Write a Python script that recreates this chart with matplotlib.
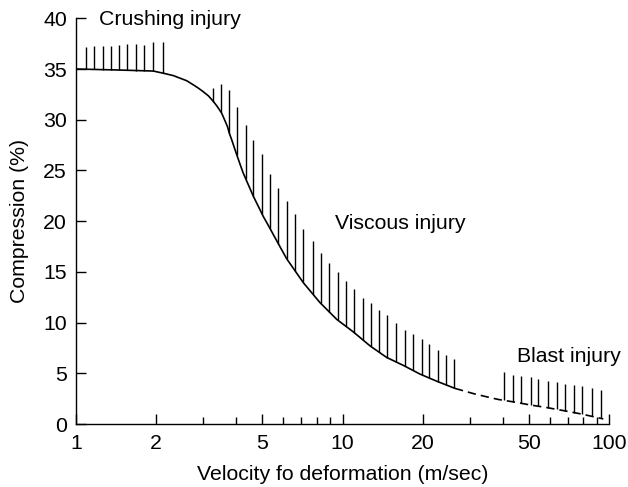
import numpy as np
import matplotlib
matplotlib.use("Agg")
import matplotlib.pyplot as plt
from matplotlib.ticker import LogLocator, FixedLocator, NullFormatter, FixedFormatter

plt.rcParams["font.family"] = ["Liberation Sans", "DejaVu Sans"]

# Tolerance boundary (solid part), velocity in m/s vs compression in %
curve_velocity = [1.0, 1.45, 1.95, 2.13, 2.32, 2.46, 2.60, 2.76, 2.88, 3.00, 3.14,
                  3.28, 3.39, 3.52, 3.61, 3.70, 3.76, 3.84, 3.92, 4.01, 4.12, 4.24,
                  4.43, 4.63, 4.83, 5.04, 5.27, 5.50, 5.83, 6.17, 7.13, 8.23, 9.51,
                  10.98, 12.69, 14.65, 16.91, 19.54, 22.57, 26.43]
curve_compression = [35.0, 34.9, 34.8, 34.58, 34.35, 34.09, 33.85, 33.43, 33.11,
                     32.77, 32.35, 31.79, 31.30, 30.65, 29.99, 29.33, 28.68, 28.02,
                     27.31, 26.55, 25.66, 24.75, 23.60, 22.45, 21.47, 20.48, 19.57,
                     18.68, 17.47, 16.30, 13.93, 11.97, 10.32, 9.08, 7.70, 6.56,
                     5.78, 4.92, 4.22, 3.51]

# Extrapolated part of the boundary (dashed)
dashed_velocity = [26.43, 30.96, 34.76, 38.43, 44.0, 50.8, 58.4, 67.8, 79.0, 95.2]
dashed_compression = [3.51, 3.0, 2.68, 2.42, 2.17, 1.87, 1.62, 1.31, 0.98, 0.50]

# Hatch strokes above the boundary: velocity and top of each stroke
crushing_velocity = [1.09, 1.17, 1.26, 1.35, 1.45, 1.56, 1.68, 1.80, 1.95, 2.12]
crushing_top = [37.2, 37.3, 37.3, 37.3, 37.4, 37.5, 37.5, 37.4, 37.7, 37.7]

viscous_velocity = [3.28, 3.50, 3.76, 4.01, 4.33, 4.63, 4.99, 5.35, 5.74, 6.19,
                    6.63, 7.11, 7.72, 8.29, 8.90, 9.59, 10.31, 11.07, 11.91, 12.76,
                    13.73, 14.75, 15.88, 17.12, 18.34, 19.88, 21.18, 22.76, 24.45,
                    26.27]
viscous_top = [33.1, 33.5, 32.9, 31.3, 29.5, 28.0, 26.6, 24.6, 23.3, 22.0, 20.7,
               19.2, 18.0, 16.9, 15.9, 15.0, 14.1, 13.3, 12.4, 11.9, 11.2, 10.7,
               10.0, 9.3, 8.9, 8.4, 7.9, 7.3, 6.8, 6.4]

blast_velocity = [40.2, 43.8, 46.8, 50.8, 54.3, 59.1, 63.9, 68.6, 73.6, 79.2, 86.7, 93.0]
blast_top = [5.14, 4.87, 4.69, 4.59, 4.42, 4.26, 4.16, 3.93, 3.83, 3.71, 3.51, 3.34]

x_ticks = [1, 2, 5, 10, 20, 50, 100]
x_tick_labels = ["1", "2", "5", "10", "20", "50", "100"]
y_ticks = [0, 5, 10, 15, 20, 25, 30, 35, 40]

region_labels = ["Crushing injury", "Viscous injury", "Blast injury"]

FS = 15.3

fig = plt.figure(figsize=(6.28, 4.87), dpi=100)
ax = fig.add_axes([76 / 628, 63 / 487, 533 / 628, 405.7 / 487])

ax.set_xscale("log")
ax.set_xlim(1, 100)
ax.set_ylim(0, 40)

lw_curve = 1.2
lw_hatch = 1.0
ax.plot(curve_velocity, curve_compression, color="black", lw=lw_curve,
        solid_capstyle="butt", solid_joinstyle="round")
ax.plot(dashed_velocity, dashed_compression, color="black", lw=lw_curve,
        dashes=(5, 3))

# Boundary as a function of log-velocity, used to anchor the hatch strokes
bound_v = np.log10(np.array(curve_velocity + dashed_velocity[1:]))
bound_c = np.array(curve_compression + dashed_compression[1:])


def boundary_at(v):
    return np.interp(np.log10(np.asarray(v)), bound_v, bound_c)


for vel, top in ((crushing_velocity, crushing_top),
                 (viscous_velocity, viscous_top),
                 (blast_velocity, blast_top)):
    ax.vlines(vel, boundary_at(vel), top, color="black", lw=lw_hatch)

# Axes styling
for side in ("top", "right"):
    ax.spines[side].set_visible(False)
for side in ("left", "bottom"):
    ax.spines[side].set_linewidth(1.0)

ax.xaxis.set_major_locator(FixedLocator(x_ticks))
ax.xaxis.set_major_formatter(FixedFormatter(x_tick_labels))
ax.xaxis.set_minor_locator(LogLocator(base=10, subs=(3, 4, 6, 7, 8, 9)))
ax.xaxis.set_minor_formatter(NullFormatter())
ax.yaxis.set_major_locator(FixedLocator(y_ticks))

ax.tick_params(axis="both", which="major", direction="in", length=7, width=1.0,
               labelsize=FS)
ax.tick_params(axis="x", which="major", pad=7.5)
ax.tick_params(axis="x", which="minor", direction="in", length=5, width=1.0)
ax.tick_params(axis="y", which="major", pad=6.5)

ax.set_xlabel("Velocity fo deformation (m/sec)", fontsize=FS)
ax.set_ylabel("Compression (%)", fontsize=FS)
ax.xaxis.set_label_coords(0.5, -0.10)
ax.yaxis.set_label_coords(-0.088, 0.50)

ax.text(1.22, 39.34, region_labels[0], fontsize=FS, ha="left", va="baseline")
ax.text(9.37, 19.2, region_labels[1], fontsize=FS, ha="left", va="baseline")
ax.text(45.2, 6.08, region_labels[2], fontsize=FS, ha="left", va="baseline")

fig.savefig("out.png", dpi=100)
